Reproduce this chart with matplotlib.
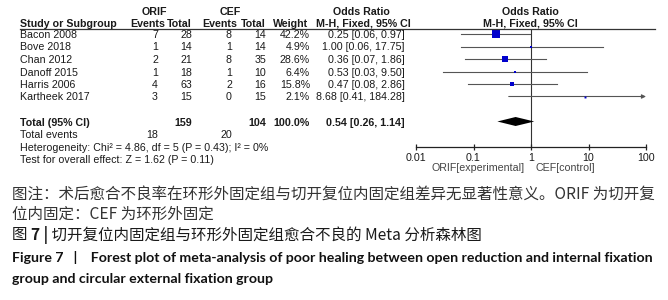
import matplotlib
matplotlib.use('Agg')
import numpy as np
import matplotlib.pyplot as plt
from matplotlib.lines import Line2D

# ---- data ----
studies = ['Bacon 2008', 'Bove 2018', 'Chan 2012', 'Danoff 2015', 'Harris 2006', 'Kartheek 2017']
orif_events = [7, 1, 2, 1, 4, 3]
orif_total = [28, 14, 21, 18, 63, 15]
cef_events = [8, 1, 8, 1, 2, 0]
cef_total = [14, 14, 35, 10, 16, 15]
weights = [42.2, 4.9, 28.6, 6.4, 15.8, 2.1]
odds = [0.25, 1.00, 0.36, 0.53, 0.47, 8.68]
ci_low = [0.06, 0.06, 0.07, 0.03, 0.08, 0.41]
ci_high = [0.97, 17.75, 1.86, 9.50, 2.86, 184.28]

total_orif, total_cef = 159, 104
events_orif, events_cef = 18, 20
total_or, total_lo, total_hi = 0.54, 0.26, 1.14

xticks = [0.01, 0.1, 1, 10, 100]
xtick_labels = ['0.01', '0.1', '1', '10', '100']

W, H = 668, 300
fig = plt.figure(figsize=(W / 100, H / 100), dpi=100)
fig.patch.set_facecolor('white')

TABLE_FONT = 'Liberation Sans'
FS = 7.7
TXT = '#1a1a1a'


def px(x, y):
    return x / W, 1 - y / H


def put(x, y, s, ha='left', weight='normal', color=TXT, size=FS, family=TABLE_FONT):
    return fig.text(*px(x, y), s, ha=ha, va='center', fontsize=size, fontweight=weight,
                    color=color, family=family)


def row_y(r):
    return 34 + 12.5 * r


# ---- header ----
put(154, 12, 'ORIF', ha='center', weight='bold')
put(230, 12, 'CEF', ha='center', weight='bold')
put(361, 12, 'Odds Ratio', ha='center', weight='bold')
put(530, 12, 'Odds Ratio', ha='center', weight='bold')
put(20, 24, 'Study or Subgroup', weight='bold')
put(148, 24, 'Events', ha='center', weight='bold')
put(192, 24, 'Total', ha='right', weight='bold')
put(220, 24, 'Events', ha='center', weight='bold')
put(266, 24, 'Total', ha='right', weight='bold')
put(308, 24, 'Weight', ha='right', weight='bold')
put(363, 24, 'M-H, Fixed, 95% CI', ha='center', weight='bold')
put(530, 24, 'M-H, Fixed, 95% CI', ha='center', weight='bold')
fig.add_artist(Line2D([20 / W, 655 / W], [1 - 28.5 / H, 1 - 28.5 / H],
                      color='#333333', lw=0.9))

# ---- study rows ----
for i, name in enumerate(studies):
    y = row_y(i) + 1
    put(20, y, name)
    put(158, y, str(orif_events[i]), ha='right')
    put(192, y, str(orif_total[i]), ha='right')
    put(232, y, str(cef_events[i]), ha='right')
    put(266, y, str(cef_total[i]), ha='right')
    put(310, y, f'{weights[i]:.1f}%', ha='right')
    put(405, y, f'{odds[i]:.2f} [{ci_low[i]:.2f}, {ci_high[i]:.2f}]', ha='right')

# ---- totals ----
yt = row_y(7) + 1.5
put(20, yt, 'Total (95% CI)', weight='bold')
put(192, yt, str(total_orif), ha='right', weight='bold')
put(266, yt, str(total_cef), ha='right', weight='bold')
put(310, yt, '100.0%', ha='right', weight='bold')
put(405, yt, f'{total_or:.2f} [{total_lo:.2f}, {total_hi:.2f}]', ha='right', weight='bold')
put(20, 135.5, 'Total events')
put(158, 135.5, str(events_orif), ha='right')
put(232, 135.5, str(events_cef), ha='right')
put(20, 148, 'Heterogeneity: Chi² = 4.86, df = 5 (P = 0.43); I² = 0%')
put(20, 160, 'Test for overall effect: Z = 1.62 (P = 0.11)')

# ---- forest axes ----
ax_top, ax_bot = 28.5, 147
x0, x1 = 416, 646
ax = fig.add_axes([x0 / W, 1 - ax_bot / H, (x1 - x0) / W, (ax_bot - ax_top) / H])
ax.set_xscale('log')
ax.set_xlim(0.01, 100)
ax.set_ylim((ax_bot - 34) / 12.5, (ax_top - 34) / 12.5)
ax.patch.set_alpha(0)
for s in ['left', 'right', 'top']:
    ax.spines[s].set_visible(False)
ax.spines['bottom'].set_color('#222222')
ax.spines['bottom'].set_linewidth(0.9)
ax.set_yticks([])
ax.set_xticks(xticks)
ax.set_xticklabels(xtick_labels)
ax.xaxis.set_minor_locator(matplotlib.ticker.NullLocator())
ax.tick_params(axis='x', direction='inout', length=5, width=0.9, color='#222222',
               labelsize=FS, labelcolor=TXT, pad=1.5)
for lab in ax.get_xticklabels():
    lab.set_family(TABLE_FONT)

ax.axvline(1, color='#333333', lw=0.8, zorder=1)

for i in range(len(studies)):
    hi = min(ci_high[i], 100)
    if ci_high[i] > 100:
        ax.annotate('', xy=(100, i), xytext=(ci_low[i], i),
                    arrowprops=dict(arrowstyle='-|>', color='#555555', lw=0.8,
                                    mutation_scale=6, shrinkA=0, shrinkB=0),
                    annotation_clip=False)
    else:
        ax.plot([ci_low[i], hi], [i, i], color='#555555', lw=0.8, zorder=2)
    ms = max(1.4, 5.2 * np.sqrt(weights[i] / 42.2))
    ax.plot([odds[i]], [i], marker='s', ms=ms, color='#0000cc', mec='#0000cc',
            mew=0, zorder=3)

dh = 0.36
ax.fill([total_lo, total_or, total_hi, total_or], [7, 7 - dh, 7, 7 + dh],
        color='black', lw=0, zorder=3)

put(525, 168, 'ORIF[experimental]', ha='right', color='#444444')
put(535, 168, 'CEF[control]', ha='left', color='#444444')

# ---- caption ----
CJK = ['Noto Sans CJK SC', 'DejaVu Sans']
CAP = 11.2
fig.text(*px(12, 194), '图注：术后愈合不良率在环形外固定组与切开复位内固定组差异无显著性意义。ORIF 为切开复',
         ha='left', va='center', fontsize=CAP, color='#333333', family=CJK)
fig.text(*px(12, 214), '位内固定：CEF 为环形外固定',
         ha='left', va='center', fontsize=CAP, color='#333333', family=CJK)

# title line: "图" regular, "7 |" bold, then the rest regular
renderer = fig.canvas.get_renderer()
x_cur = 12 / W
for piece, wt in [('图 ', 'normal'), ('7 |', 'bold'),
                  (' 切开复位内固定组与环形外固定组愈合不良的 Meta 分析森林图', 'normal')]:
    t = fig.text(x_cur, 1 - 235 / H, piece, ha='left', va='center', fontsize=CAP,
                 color='#1a1a1a', family=CJK, fontweight=wt)
    x_cur = t.get_window_extent(renderer).x1 / W

fig.text(*px(12, 257), 'Figure 7   |    Forest plot of meta-analysis of poor healing between open reduction and internal fixation',
         ha='left', va='center', fontsize=10.2, color='#111111', family='Lato',
         fontweight='bold')
fig.text(*px(12, 279), 'group and circular external fixation group',
         ha='left', va='center', fontsize=10.2, color='#111111', family='Lato',
         fontweight='bold')

fig.savefig('out.png', dpi=100)
